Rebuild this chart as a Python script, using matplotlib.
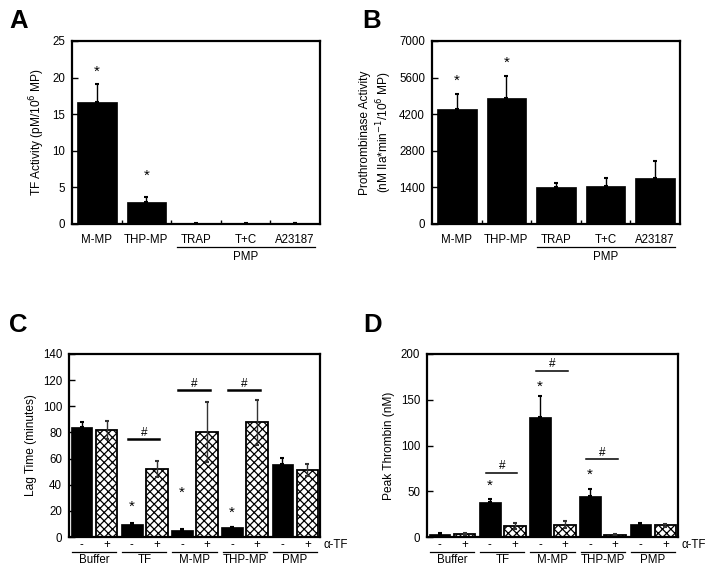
import numpy as np
import matplotlib
matplotlib.use("Agg")
import matplotlib.pyplot as plt
from matplotlib.transforms import blended_transform_factory

plt.rcParams['font.family'] = ['Liberation Sans', 'DejaVu Sans']
plt.rcParams['font.size'] = 8.3
plt.rcParams['hatch.linewidth'] = 0.9

# ---- panel A / B data ----
ab_labels = ["M-MP", "THP-MP", "TRAP", "T+C", "A23187"]
tf_act = [16.6, 2.95, 0.05, 0.05, 0.1]
tf_err = [2.5, 0.7, 0.05, 0.05, 0.1]
tf_star = [20.8, 6.6, None, None, None]

pro_act = [4390, 4810, 1400, 1450, 1760]
pro_err = [580, 870, 160, 300, 660]
pro_star = [5480, 6150, None, None, None]

# ---- panel C / D data ----
groups = ["Buffer", "TF", "M-MP", "THP-MP", "PMP"]
lag_minus = [84, 10.2, 5.6, 7.7, 55.8]
lag_minus_err = [4.3, 0.8, 0.8, 0.0, 5.0]
lag_plus = [82, 52, 80, 87.7, 51]
lag_plus_err = [7, 6, 23, 17, 4.5]
lag_star = [None, 23, 33.8, 18.4, None]
lag_hash = [None, 74.7, 112.5, 112.5, None]

peak_minus = [2.9, 38.4, 131, 45.3, 14.6]
peak_minus_err = [1.5, 2.6, 23.3, 7.0, 1.1]
peak_plus = [3.3, 12, 13.5, 2.6, 12.8]
peak_plus_err = [1.5, 3.4, 3.7, 1.1, 1.8]
peak_star = [None, 56, 164.5, 68.4, None]
peak_hash = [None, 70.2, 181.7, 84.8, None]

FW, FH = 715, 578
FS = 8.3
fig = plt.figure(figsize=(FW / 100, FH / 100), dpi=100)


def add_ax(left, top, w, h):
    return fig.add_axes([left / FW, 1 - (top + h) / FH, w / FW, h / FH])


def style(ax):
    for s in ax.spines.values():
        s.set_linewidth(1.6)
    ax.tick_params(axis='y', direction='in', length=4, width=1, labelsize=FS, pad=5)


def panel_ab(ax, vals, errs, stars, ymax, yticks, ylabel):
    x = np.arange(len(ab_labels))
    ax.bar(x, vals, width=0.8, color='black', edgecolor='black', linewidth=0.5)
    ax.errorbar(x, vals, yerr=[np.zeros(len(errs)), errs], fmt='none',
                ecolor='black', elinewidth=1, capsize=1.5, capthick=1.5)
    for xi, s in zip(x, stars):
        if s is not None:
            ax.text(xi, s, '*', ha='center', va='center', fontsize=11)
    ax.set_xlim(-0.5, len(ab_labels) - 0.5)
    ax.set_ylim(0, ymax)
    ax.set_yticks(yticks)
    ax.set_xticks(x)
    ax.set_xticklabels(ab_labels, fontsize=FS)
    ax.set_xticks(np.arange(0.5, len(ab_labels) - 0.5), minor=True)
    ax.tick_params(axis='x', which='major', length=0, pad=7)
    ax.tick_params(axis='x', which='minor', direction='in', length=3, width=1)
    ax.set_ylabel(ylabel, fontsize=8.6, labelpad=4)
    tr = blended_transform_factory(ax.transData, ax.transAxes)
    ax.plot([1.62, 4.4], [-0.125, -0.125], color='black', lw=0.9,
            transform=tr, clip_on=False)
    ax.text(3.0, -0.18, 'PMP', ha='center', va='center', fontsize=FS, transform=tr)


def panel_cd(ax, mv, me, pv, pe, stars, hashes, ymax, yticks, ylabel, hlw):
    n = len(groups)
    xm = np.arange(n) * 2
    xp = xm + 1
    w = 0.86
    ax.bar(xm, mv, width=w, color='black', edgecolor='black', linewidth=0.5)
    ax.bar(xp, pv, width=w, color='white', edgecolor='black', linewidth=1.3,
           hatch='xxxx')
    ax.errorbar(xm, mv, yerr=[np.zeros(n), me], fmt='none', ecolor='black',
                elinewidth=1, capsize=1.5, capthick=1.5)
    ax.errorbar(xp, pv, yerr=pe, fmt='none', ecolor='#333333',
                elinewidth=1, capsize=1.5, capthick=1.5)
    for i in range(n):
        if stars[i] is not None:
            ax.text(xm[i], stars[i], '*', ha='center', va='center', fontsize=11)
        if hashes[i] is not None:
            ax.plot([xm[i] - 0.15, xp[i] + 0.1], [hashes[i], hashes[i]],
                    color='black', lw=hlw)
            ax.text((xm[i] + xp[i]) / 2, hashes[i] + ymax * 0.035, '#',
                    ha='center', va='center', fontsize=8.5)
    ax.set_xlim(-0.5, 2 * n - 0.5)
    ax.set_ylim(0, ymax)
    ax.set_yticks(yticks)
    ax.set_xticks([])
    ax.set_ylabel(ylabel, fontsize=8.6, labelpad=4)
    tr = blended_transform_factory(ax.transData, ax.transAxes)
    for i in range(n):
        ax.text(xm[i], -0.044, '-', ha='center', va='center', fontsize=FS, transform=tr)
        ax.text(xp[i], -0.044, '+', ha='center', va='center', fontsize=FS, transform=tr)
        ax.plot([xm[i] - 0.38, xp[i] + 0.38], [-0.082, -0.082], color='black',
                lw=0.9, transform=tr, clip_on=False)
        ax.text((xm[i] + xp[i]) / 2, -0.125, groups[i], ha='center', va='center',
                fontsize=FS, transform=tr)
    ax.text(1.012, -0.044, 'α-TF', ha='left', va='center', fontsize=FS,
            transform=ax.transAxes)


axA = add_ax(72, 41, 248, 183)
style(axA)
panel_ab(axA, tf_act, tf_err, tf_star, 25, [0, 5, 10, 15, 20, 25],
         'TF Activity (pM/10$^6$ MP)')

axB = add_ax(432, 41, 248, 183)
style(axB)
panel_ab(axB, pro_act, pro_err, pro_star, 7000, [0, 1400, 2800, 4200, 5600, 7000],
         'Prothrombinase Activity\n(nM IIa*min$^{-1}$/10$^6$ MP)')

axC = add_ax(69, 354, 251, 183)
style(axC)
panel_cd(axC, lag_minus, lag_minus_err, lag_plus, lag_plus_err, lag_star, lag_hash,
         140, [0, 20, 40, 60, 80, 100, 120, 140], 'Lag Time (minutes)', 1.8)

axD = add_ax(427, 354, 251, 183)
style(axD)
panel_cd(axD, peak_minus, peak_minus_err, peak_plus, peak_plus_err, peak_star,
         peak_hash, 200, [0, 50, 100, 150, 200], 'Peak Thrombin (nM)', 1.1)

for letter, px, py in [('A', 9, 21), ('B', 362, 21), ('C', 9, 325), ('D', 363, 325)]:
    fig.text(px / FW, 1 - py / FH, letter, fontsize=18.5, fontweight='bold',
             ha='left', va='center')

fig.savefig('out.png', dpi=100)
